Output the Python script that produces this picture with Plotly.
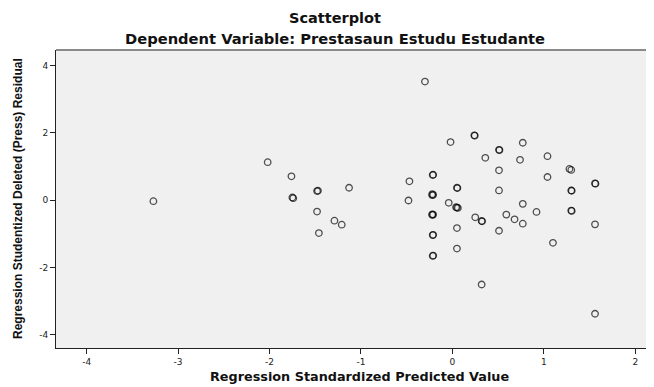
import plotly.graph_objects as go

# Regression standardized predicted value (x) and studentized deleted residual (y)
pred = [-3.27, -2.02, -1.76, -1.75, -1.74, -1.48, -1.47, -1.13, -1.48, -1.29, -1.21, -1.46,
        -0.30, 0.24, 0.245, -0.02, 0.77, 0.51, 0.515, 0.36, 0.74, 1.04, 0.51, 1.28, 1.30,
        1.04, -0.47, -0.21, -0.215, 1.56, 1.565, 0.05, 0.055, 0.51, 1.30, 1.305,
        -0.22, -0.21, -0.22, -0.48, -0.04, 0.05, 0.06, 0.04, 0.77, 0.92, 1.30, 1.305,
        -0.22, -0.21, -0.22, 0.25, 0.32, 0.325, 0.59, 0.68, 0.77, 1.56, 0.05, 0.51,
        -0.21, -0.215, 1.10, 0.05, -0.21, -0.215, 0.32, 1.56]
resid = [-0.03, 1.13, 0.71, 0.08, 0.06, 0.27, 0.28, 0.37, -0.34, -0.61, -0.73, -0.98,
         3.53, 1.93, 1.92, 1.73, 1.71, 1.50, 1.49, 1.26, 1.20, 1.31, 0.89, 0.93, 0.90,
         0.69, 0.56, 0.76, 0.75, 0.50, 0.49, 0.37, 0.36, 0.29, 0.29, 0.28,
         0.18, 0.16, 0.15, -0.01, -0.08, -0.22, -0.23, -0.21, -0.11, -0.35, -0.31, -0.32,
         -0.42, -0.43, -0.44, -0.51, -0.62, -0.63, -0.43, -0.57, -0.70, -0.72, -0.83, -0.91,
         -1.03, -1.04, -1.27, -1.44, -1.65, -1.66, -2.51, -3.38]

x_ticks = [-4, -3, -2, -1, 0, 1, 2]
y_ticks = [-4, -2, 0, 2, 4]

title_text = "Scatterplot"
subtitle_text = "Dependent Variable: Prestasaun Estudu Estudante"
x_title = "Regression Standardized Predicted Value"
y_title = "Regression Studentized Deleted (Press) Residual"

fig = go.Figure()
fig.add_trace(go.Scatter(
    x=pred, y=resid, mode="markers",
    marker=dict(symbol="circle-open", size=6.5, color="rgba(0,0,0,0.68)",
                line=dict(width=1.3, color="rgba(0,0,0,0.68)")),
    showlegend=False, hoverinfo="skip"))

axis_common = dict(showgrid=False, zeroline=False, showline=True, linecolor="#222",
                   linewidth=1, ticks="outside", ticklen=5, tickcolor="#222", tickwidth=1,
                   tickfont=dict(family="DejaVu Sans", size=9, color="#222"))

# page body has an 8px default margin, so the figure is sized to fill the window exactly
fig.update_layout(
    width=646, height=379,
    margin=dict(l=48, r=0, t=42, b=39),
    paper_bgcolor="white", plot_bgcolor="#F0F0F0",
    xaxis=dict(range=[-4.335, 2.205], tickmode="array", tickvals=x_ticks,
               ticktext=[str(v) for v in x_ticks], **axis_common),
    yaxis=dict(range=[-4.40, 4.47], tickmode="array", tickvals=y_ticks,
               ticktext=[str(v) for v in y_ticks], **axis_common),
    shapes=[dict(type="line", xref="paper", yref="paper", x0=0, x1=1, y0=1, y1=1,
                 line=dict(color="#8a8a8a", width=2))],
    annotations=[
        dict(text="<b>%s</b>" % title_text, xref="paper", yref="paper", x=0.4666, y=1.108,
             showarrow=False, xanchor="center", yanchor="middle",
             font=dict(family="DejaVu Sans", size=14.5, color="#111")),
        dict(text="<b>%s</b>" % subtitle_text, xref="paper", yref="paper", x=0.4666, y=1.037,
             showarrow=False, xanchor="center", yanchor="middle",
             font=dict(family="DejaVu Sans", size=14.7, color="#111")),
        dict(text="<b>%s</b>" % x_title, xref="paper", yref="paper", x=0.5067, y=-0.094,
             showarrow=False, xanchor="center", yanchor="middle",
             font=dict(family="DejaVu Sans", size=12.8, color="#111")),
        dict(text="<b>%s</b>" % y_title, xref="paper", yref="paper", x=-0.0635, y=0.5,
             showarrow=False, xanchor="center", yanchor="middle", textangle=-90,
             font=dict(family="Liberation Sans", size=12, color="#111")),
    ],
)

fig.write_html("out.html")
